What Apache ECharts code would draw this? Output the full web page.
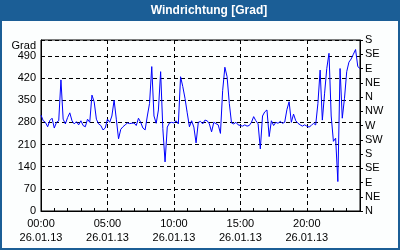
<!DOCTYPE html>
<html><head><meta charset="utf-8">
<script src="https://cdn.jsdelivr.net/npm/echarts@6/dist/echarts.min.js"></script>
<style>html,body{margin:0;padding:0;background:#1b5e96}#c{width:400px;height:250px}</style>
</head><body><div id="c"></div>
<script>
const dateLabel = '26.01.13';
const compass = ['N','NE','E','SE','S','SW','W','NW','N','NE','E','SE','S'];
const leftTicks = [0,70,140,210,280,350,420,490];
// wind direction readings every 10 minutes, 00:00 .. 24:00
const direction = [
 303,285,280,266,286,293,262,280,285,414,290,275,295,310,285,275,282,272,285,270,
 266,290,280,366,345,290,275,270,256,262,290,280,300,350,290,228,258,266,272,278,
 276,277,278,270,293,280,262,256,300,340,456,300,277,319,440,260,155,265,278,280,
 278,285,275,424,393,356,310,266,285,265,215,280,283,275,287,285,275,250,280,276,
 272,245,380,454,424,340,278,275,280,272,270,268,272,268,270,280,298,285,275,196,
 300,313,319,235,285,270,280,277,283,277,280,320,345,280,306,285,277,272,268,272,
 268,265,270,277,272,340,445,287,370,450,498,300,220,230,93,450,293,356,440,470,
 480,495,510,456,450
];
const times = [];
for (let i = 0; i < direction.length; i++) {
  const h = Math.floor(i / 6), m = (i % 6) * 10;
  times.push(String(h).padStart(2,'0') + ':' + String(m).padStart(2,'0'));
}
const font = 'Liberation Sans';
const chart = echarts.init(document.getElementById('c'), null, {renderer:'canvas'});
chart.setOption({
  animation: false,
  backgroundColor: '#1b5e96',
  graphic: [
    {type:'rect', z:-10, shape:{x:2,y:21,width:396,height:227}, style:{fill:'#fcfefe'}},
    {type:'text', x:209, y:11, style:{text:'Windrichtung [Grad]', fill:'#ffffff', font:'bold 12px "Liberation Sans"', textAlign:'center', textVerticalAlign:'middle'}},
    {type:'text', x:36, y:46, style:{text:'Grad', fill:'#000', font:'11px "Liberation Sans"', textAlign:'right', textVerticalAlign:'middle'}}
  ],
  grid: {left:41, right:40, top:40, bottom:39, show:true, borderColor:'#000', borderWidth:1, backgroundColor:'transparent'},
  xAxis: {
    type:'category', data: times, boundaryGap:false,
    axisLine:{show:true, lineStyle:{color:'#000', width:1}},
    axisTick:{show:true, inside:true, length:3, lineStyle:{color:'#000'}, interval:(i)=> i % 6 === 0},
    axisLabel:{show:true, interval:(i)=> i % 30 === 0 && i < 144, margin:6, color:'#000', fontFamily:font, fontSize:11, lineHeight:14,
      formatter:(v)=> v + '\n' + dateLabel},
    splitLine:{show:true, interval:(i)=> i % 30 === 0 && i > 0 && i < 144, lineStyle:{color:'#000', type:[4,3], width:1}}
  },
  yAxis: [
    {type:'value', min:0, max:540, interval:70, position:'left',
     axisLine:{show:true, lineStyle:{color:'#000'}}, axisTick:{show:false},
     axisLabel:{margin:5, color:'#000', fontFamily:font, fontSize:11, formatter:(v)=> leftTicks.indexOf(v) >= 0 ? String(v) : ''},
     splitLine:{show:true, lineStyle:{color:'#000', type:[4,3], width:1}}},
    {type:'value', min:0, max:540, interval:45, position:'right',
     axisLine:{show:true, lineStyle:{color:'#000'}}, axisTick:{show:true, inside:false, length:3, lineStyle:{color:'#000'}},
     axisLabel:{margin:5, color:'#000', fontFamily:font, fontSize:11, formatter:(v)=> compass[Math.round(v/45)] || ''},
     splitLine:{show:false}}
  ],
  series: [{type:'line', data: direction, yAxisIndex:0, showSymbol:false, symbol:'none',
    lineStyle:{color:'#0000ff', width:1}, itemStyle:{color:'#0000ff'}}]
});
</script></body></html>
